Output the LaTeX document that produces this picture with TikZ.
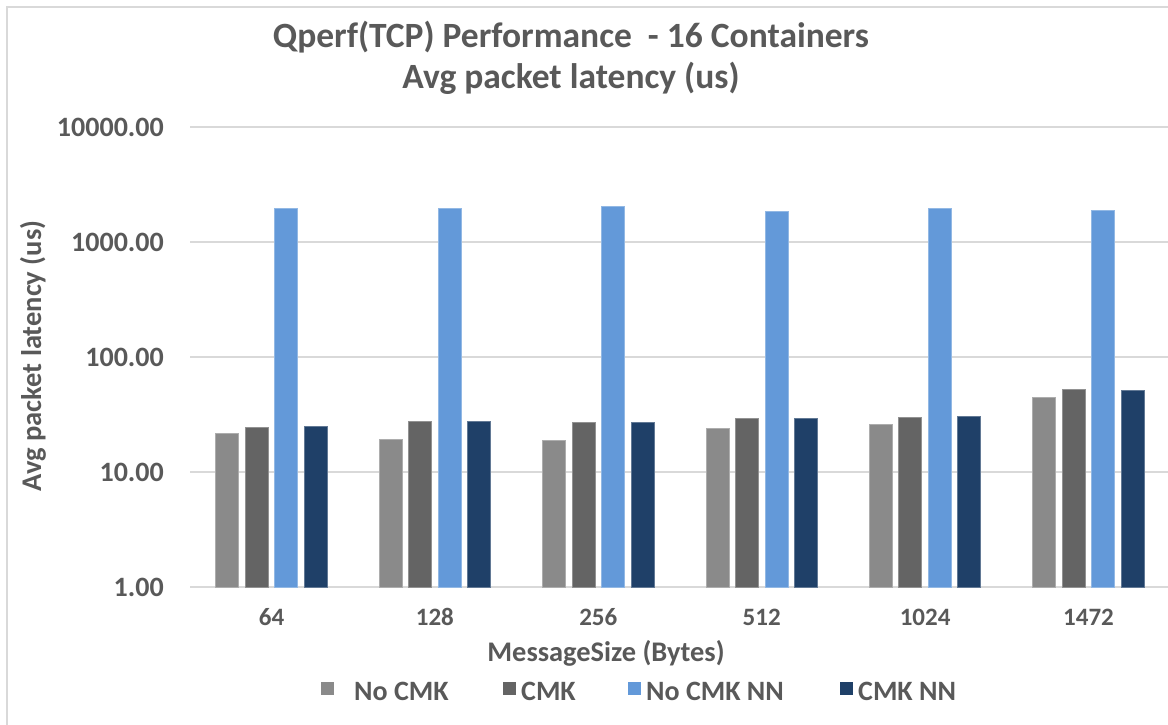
\documentclass[tikz,border=0pt]{standalone}
\usepackage{fontspec}
\setmainfont{Carlito}
\definecolor{txtgray}{HTML}{595959}
\definecolor{gridgray}{HTML}{D9D9D9}
\definecolor{nocmk}{HTML}{8A8A8A}
\definecolor{cmk}{HTML}{646464}
\definecolor{nocmknn}{HTML}{6399D9}
\definecolor{cmknn}{HTML}{1F4068}
\begin{document}
\begin{tikzpicture}[x=1pt,y=-1pt,
  lbl/.style={text=txtgray,font=\bfseries\fontsize{#1}{#1}\selectfont,inner sep=0pt},
  gridline/.style={draw=gridgray,line width=1.6pt},
  bar/.style={fill=#1,draw=#1!70!white,line width=0.8pt},
  keybox/.style={fill=#1,minimum size=13pt,inner sep=0pt}]
\useasboundingbox (0,0) rectangle (1168,725);
\fill[white] (0,0) rectangle (1168,725);
% chart frame
\draw[draw=gridgray,line width=2pt] (1180,7) -- (7,7) -- (7,740);
% title
\node[lbl=35.5] (title1) at (571,37) {Qperf(TCP) Performance\ \ - 16 Containers};
\node[lbl=35.5] (title2) at (571,78) {Avg packet latency (us)};
% value axis: log scale, one decade = 115px, 1.00 at y=587
\foreach \e/\t in {0/1.00,1/10.00,2/100.00,3/1000.00,4/10000.00}{
  \coordinate (g\e) at (190,587-115*\e);
  \draw[gridline] (g\e) -- ++(980,0);
  \node[lbl=28,anchor=east] (tick\e) at (164,587-115*\e) {\t};
}
\node[lbl=28.5,rotate=90] (ytitle) at (33,356) {Avg packet latency (us)};
% bars
\foreach \g/\cat/\a/\b/\c/\d in {
  0/64/21.7/24.5/1976/25.1,
  1/128/19.2/27.8/1976/27.8,
  2/256/18.7/27.0/2028/27.0,
  3/512/24.0/29.3/1834/29.3,
  4/1024/26.0/29.9/1976/30.7,
  5/1472/44.3/52.4/1888/51.3}{
  \foreach \k/\v/\col in {0/\a/nocmk,1/\b/cmk,2/\c/nocmknn,3/\d/cmknn}{
    \pgfmathsetmacro{\xl}{215.7+163.4*\g+29.5*\k}
    \pgfmathsetmacro{\yt}{587-115*ln(\v)/ln(10)}
    \draw[bar=\col] (\xl,587) rectangle (\xl+23,\yt);
  }
  \node[lbl=25] (cat\g) at (271.5+163.4*\g,617) {\cat};
}
\node[lbl=28.4] (xtitle) at (606,653) {MessageSize (Bytes)};
% legend
\node[keybox=nocmk] (k1) at (327,688) {};
\node[lbl=28,anchor=west] (l1) at (354,691) {No CMK};
\node[keybox=cmk] (k2) at (509,688) {};
\node[lbl=28,anchor=west] (l2) at (521,691) {CMK};
\node[keybox=nocmknn] (k3) at (634.5,688) {};
\node[lbl=28,anchor=west] (l3) at (646,691) {No CMK NN};
\node[keybox=cmknn] (k4) at (846,688) {};
\node[lbl=28,anchor=west] (l4) at (858,691) {CMK NN};
\end{tikzpicture}
\end{document}
